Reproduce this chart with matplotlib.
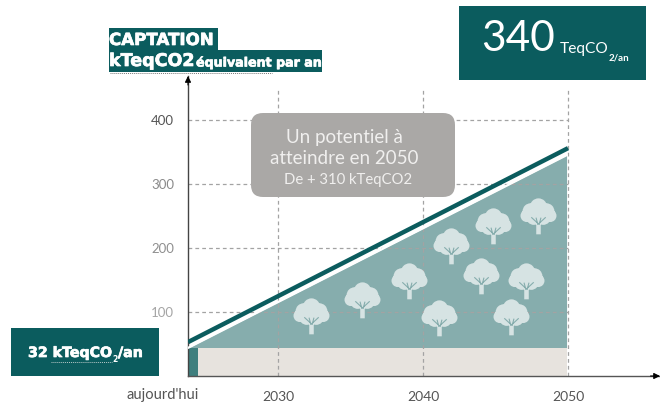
import matplotlib
matplotlib.use("Agg")
from matplotlib import pyplot as plt
from matplotlib import patheffects
from matplotlib.patches import FancyBboxPatch, Rectangle
from matplotlib.path import Path
from matplotlib.transforms import IdentityTransform

W, H = 660, 407

# values
annees_ligne = [2023.8, 2050]
captation_ligne = [53, 356]
annees_zone = [2023.8, 2049.9]
captation_zone = [44, 345]
socle = 44
fin_socle_actuel = 2024.5

y_ticks = [100, 200, 300, 400]
y_couleurs = ["#a5a5a5", "#8f8f8f", "#8a8a8a", "#555555"]
x_ticks = [2030, 2040, 2050]

arbres_x = [2032.3, 2035.8, 2039.0, 2041.1, 2041.9, 2044.0, 2046.1, 2047.1, 2044.8, 2047.9]
arbres_y = [98, 123, 153, 95, 208, 161, 97, 153, 239, 255]

VERT = "#0b5c5e"
ZONE = "#86adad"
BEIGE = "#e7e3de"
GRIS = "#aaa8a6"
FEUILLE = "#d6e3e3"
POINTILLE = "#a3a3a3"
GRAS = [patheffects.withStroke(linewidth=0.5, foreground="white")]


def fx(px):
    return px / W


def fy(py):
    return 1 - py / H


def boite(x0, y0, x1, y1, color=VERT):
    fig.add_artist(Rectangle((x0, H - y1), x1 - x0, y1 - y0, color=color, lw=0,
                             transform=IdentityTransform()))


def texte(px, py, s, **kw):
    kw.setdefault("va", "center")
    kw.setdefault("color", "white")
    fig.text(fx(px), fy(py), s, **kw)


def vague(x0, x1, py, color):
    fig.add_artist(plt.Line2D([fx(x0), fx(x1)], [fy(py), fy(py)], color=color, lw=0.7,
                              ls=(0, (1, 1)), transform=fig.transFigure))


def forme_arbre():
    # canopy made of overlapping circles, plus the trunk, centred on the canopy
    ronds = [(0, 0.35, 0.45), (-0.42, 0.12, 0.42), (0.42, 0.12, 0.42), (-0.62, -0.12, 0.33),
             (0.62, -0.12, 0.33), (-0.25, -0.2, 0.4), (0.25, -0.2, 0.4), (0, 0, 0.5)]
    morceaux = []
    for cx, cy, r in ronds:
        morceaux.append(Path.circle((cx, cy), r))
    morceaux.append(Path([(-0.12, -1.1), (0.12, -1.1), (0.12, -0.2), (-0.12, -0.2), (-0.12, -1.1)], closed=True))
    return Path.make_compound_path(*morceaux)


def forme_branches():
    v = [(0, -0.55), (-0.38, -0.2), (0, -0.55), (0.38, -0.2), (-0.03, -0.6), (-0.13, -0.22), (0.03, -0.6), (0.13, -0.22), (0, 1.1), (0, 1.1)]
    c = [Path.MOVETO, Path.LINETO] * 5
    return Path(v, c)


fig = plt.figure(figsize=(W / 100, H / 100), dpi=100, facecolor="white")
ax = fig.add_axes([fx(188), fy(376), (660 - 188) / W, 300 / H])
ax.set_xlim(2030 + (188 - 278) / 14.5, 2030 + (660 - 278) / 14.5)
ax.set_ylim(0, 300 / 0.64)
ax.patch.set_alpha(0)

# areas
ax.fill_between(annees_zone, [socle, socle], captation_zone, color=ZONE, lw=0, zorder=1)
ax.fill_between([annees_zone[0], annees_zone[1]], 0, socle, color=BEIGE, lw=0, zorder=1)
ax.fill_between([annees_zone[0], fin_socle_actuel], 0, socle, color="#3f7f7e", lw=0, zorder=1.1)

# grid
ax.hlines(y_ticks, annees_ligne[0], 2050, colors=POINTILLE, lw=0.9, linestyles=(0, (3, 2.5)), zorder=2)
ax.vlines(x_ticks, 0, 447, colors=POINTILLE, lw=0.9, linestyles=(0, (3, 2.5)), zorder=2)

# trees
ax.scatter(arbres_x, arbres_y, marker=forme_arbre(), s=900, color=FEUILLE, lw=0, zorder=3)
ax.scatter(arbres_x, arbres_y, marker=forme_branches(), s=900, color=ZONE, lw=0.8, zorder=3.1)

# line
ax.plot(annees_zone, captation_zone, color="white", lw=1.6, zorder=3.5)
ax.plot(annees_ligne, captation_ligne, color=VERT, lw=3.2, solid_capstyle="butt", zorder=4)

# axes
for c in ["top", "right"]:
    ax.spines[c].set_visible(False)
ax.spines["left"].set_color("#444444")
ax.spines["bottom"].set_color("#555555")
ax.spines["left"].set_linewidth(1)
ax.spines["bottom"].set_linewidth(1)
ax.annotate("", xy=(0, 1.0), xytext=(0, 0.97), xycoords="axes fraction",
            arrowprops=dict(arrowstyle="-|>", color="black", lw=0.8, mutation_scale=9, shrinkA=0, shrinkB=0))
ax.annotate("", xy=(1.0, 0), xytext=(0.98, 0), xycoords="axes fraction",
            arrowprops=dict(arrowstyle="-|>", color="black", lw=0.8, mutation_scale=9, shrinkA=0, shrinkB=0))
ax.set_xticks(x_ticks)
ax.set_yticks(y_ticks)
ax.tick_params(length=0)
ax.tick_params(axis="x", pad=11, labelsize=10, labelcolor="#555555")
ax.tick_params(axis="y", pad=10, labelsize=9.5)
for t, c in zip(ax.get_yticklabels(), y_couleurs):
    t.set_color(c)
for t in ax.get_xticklabels() + ax.get_yticklabels():
    t.set_fontfamily("Lato")
texte(163, 395, "aujourd'hui", ha="center", color="#555555", family="Lato", fontsize=10.5)

# title top left
boite(109, 28, 218, 50)
boite(109, 50, 322, 72)
texte(109, 40, "CAPTATION", family="DejaVu Sans", weight="bold", fontsize=12, path_effects=GRAS)
texte(109, 61, "kTeqCO2", family="DejaVu Sans", weight="bold", fontsize=12.6, path_effects=GRAS)
texte(196, 63, "équivalent par an", family="DejaVu Sans", weight="bold", fontsize=9.1, path_effects=GRAS)
vague(110, 272, 73, "#777777")

# box top right
boite(459, 6, 646, 80)
texte(481, 39, "340", family="Lato", fontsize=30.5)
texte(560, 49, "TeqCO", family="Lato", fontsize=11.2)
texte(609, 58, "2/an", family="Lato", weight="bold", fontsize=7)

# box bottom left
boite(11, 328, 159, 376)
texte(28, 353, "32 kTeqCO", family="DejaVu Sans", weight="bold", fontsize=10.2, path_effects=GRAS)
texte(112, 360, "2", family="DejaVu Sans", weight="bold", fontsize=5.5)
texte(118, 353, "/an", family="DejaVu Sans", weight="bold", fontsize=10.2, path_effects=GRAS)
vague(51, 112, 362, "#b9c9c9")

# grey note
fig.add_artist(FancyBboxPatch((263, H - 185), 180, 60, boxstyle="round,pad=12,rounding_size=12",
                              fc=GRIS, ec="none", transform=IdentityTransform(), zorder=5))
texte(344, 137, "Un potentiel à", ha="center", color="#f0efee", family="Lato", fontsize=13.5, zorder=6)
texte(344, 158, "atteindre en 2050", ha="center", color="#f0efee", family="Lato", fontsize=13.5, zorder=6)
texte(348, 180, "De + 310 kTeqCO2", ha="center", color="#f0efee", family="Lato", fontsize=10.7, zorder=6)

fig.savefig("out.png", dpi=100)
